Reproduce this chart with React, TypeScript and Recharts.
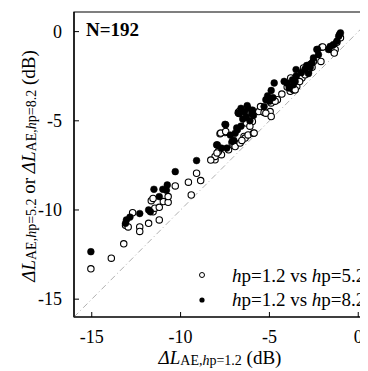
import React from "react";
import { ScatterChart, Scatter, XAxis, YAxis, ReferenceLine, ReferenceArea } from "recharts";

// hp=1.2 vs hp=5.2 (open circles): [x, y]
const openX = [-15.05,-13.9,-13.2,-12.3,-12.3,-11.8,-11.2,-12.7,-13.1,-12.95,-11.55,-11.45,-11.2,-11.65,-11.55,-10.97,-10.7,-10.7,-10.3,
  -9.4,-9.56,-8.87,-9.1,-8.06,-8.06,-7.7,-7.87,-7.3,-7.1,-7.78,-7.5,-7.74,-7.46,
  -6.93,-6.65,-6.43,-6.37,-6.2,-5.9,-5.86,-6.3,-5.96,-6.75,-6.7,
  -5.6,-5.3,-4.96,-5.2,-4.9,-4.9,-4.55,-4.68,
  -3.83,-3.65,-3.6,-3.46,-3.55,-3.8,-3.17,-2.99,-2.8,-3.08,-2.7,-2.52,-2.1,
  -2.05,-2.0,-1.58,-1.48,-1.3,-1.54,-1.35,-1.0,
  -6.1,-5.5,-4.3,-4.0,-3.3,-2.6,-1.2,-8.3,-7.95,-6.55];
const openY = [-13.3,-12.7,-11.9,-10.95,-11.2,-10.75,-10.56,-10.15,-10.85,-10.95,-10.1,-9.9,-9.85,-9.48,-9.35,-9.53,-9.57,-9.25,-8.65,
  -9.16,-8.44,-8.35,-7.94,-7.19,-7.0,-6.9,-6.72,-6.63,-6.25,-5.73,-5.66,-5.69,-5.6,
  -6.44,-6.25,-5.88,-5.97,-5.79,-5.7,-5.69,-5.13,-5.04,-4.53,-4.48,
  -4.48,-4.53,-4.48,-4.57,-4.76,-4.0,-3.82,-3.9,
  -3.35,-3.26,-3.26,-3.07,-3.26,-2.6,-2.6,-2.42,-2.23,-2.04,-1.85,-1.67,-1.67,
  -0.88,-0.86,-0.92,-1.0,-1.0,-1.0,-1.2,-0.35,
  -5.3,-4.2,-3.5,-3.1,-2.8,-2.0,-0.6,-7.2,-6.8,-6.1];

// hp=1.2 vs hp=8.2 (filled circles)
const filledX = [-15.05,-13.1,-13.05,-12.85,-12.3,-11.8,-11.7,-11.2,-11.5,-11.0,-10.75,-10.8,-10.3,
  -9.1,-7.97,-7.93,-7.7,-7.4,-7.1,-6.93,-6.84,-7.5,-7.46,-6.75,
  -6.6,-6.4,-6.2,-6.0,-6.3,-6.1,-5.9,-6.5,-6.7,-5.95,-6.25,
  -7.2,-7.0,-6.8,-6.6,
  -5.3,-5.2,-5.0,-4.8,-5.1,-4.73,-4.9,
  -4.17,-3.89,-4.0,-3.7,-3.5,-3.55,-3.65,-3.5,
  -3.2,-3.0,-2.9,-2.7,-2.6,-2.8,-2.52,-2.24,-2.33,-2.29,
  -1.67,-1.58,-1.4,-1.2,-1.1,-1.0,-1.05];
const filledY = [-12.34,-10.75,-10.56,-10.4,-10.2,-10.0,-10.1,-9.25,-8.84,-8.84,-8.6,-8.9,-7.85,
  -7.23,-6.35,-6.35,-6.53,-6.53,-6.16,-5.7,-5.4,-5.2,-5.22,-4.57,
  -4.3,-4.5,-4.3,-4.6,-4.8,-5.0,-4.7,-4.9,-4.6,-4.4,-4.15,
  -5.8,-6.1,-5.5,-5.3,
  -4.2,-3.82,-3.9,-3.7,-3.6,-2.88,-3.3,
  -2.79,-3.16,-2.9,-2.7,-2.5,-2.8,-2.98,-2.13,
  -2.3,-2.1,-1.9,-2.0,-1.75,-2.35,-1.48,-1.29,-1.0,-1.0,
  -1.0,-0.83,-0.73,-0.54,-0.26,-0.07,-0.15];

const axisTicks = [-15, -10, -5, 0];

const openData = openX.map((x, i) => ({ x, y: openY[i] }));
const filledData = filledX.map((x, i) => ({ x, y: filledY[i] }));

const FONT = "'Liberation Serif', 'Times New Roman', serif";

const XTick = (props: any) => {
  const { x, y, payload } = props;
  return (
    <g>
      <line x1={x} y1={y} x2={x} y2={y - 5} stroke="#000" />
      <text x={x} y={y + 26} textAnchor="middle" fontFamily={FONT} fontSize={18} fill="#000">
        {payload.value}
      </text>
    </g>
  );
};

const YTick = (props: any) => {
  const { x, y, payload } = props;
  return (
    <g>
      <line x1={x} y1={y} x2={x + 5} y2={y} stroke="#000" />
      <text x={x - 12} y={y + 6} textAnchor="end" fontFamily={FONT} fontSize={18} fill="#000">
        {payload.value}
      </text>
    </g>
  );
};

const OpenDot = (props: any) => (
  <circle cx={props.cx} cy={props.cy} r={3.2} fill="#fff" stroke="#000" strokeWidth={1.1} />
);
const FilledDot = (props: any) => (
  <circle cx={props.cx} cy={props.cy} r={3.4} fill="#000" stroke="#000" strokeWidth={0.5} />
);

export default function App() {
  return (
    <div style={{ position: "relative", width: 360, height: 363, overflow: "hidden" }}>
      <ScatterChart width={380} height={363} margin={{ top: 4, right: 12, left: 0, bottom: 0 }}>
        <XAxis type="number" dataKey="x" domain={[-16, 1]} ticks={axisTicks} height={54}
          tick={<XTick />} tickLine={false} tickSize={0} tickMargin={0}
          axisLine={{ stroke: "#000", strokeWidth: 1.2 }} allowDataOverflow />
        <YAxis type="number" dataKey="y" domain={[-16, 1.1]} ticks={axisTicks} width={66}
          tick={<YTick />} tickLine={false} tickSize={0} tickMargin={0}
          axisLine={{ stroke: "#000", strokeWidth: 1.2 }} allowDataOverflow />
        <ReferenceArea x1={-16} x2={1} y1={-16} y2={1.1} fill="none" stroke="#000" strokeWidth={1.2} />
        <ReferenceLine segment={[{ x: -16, y: -16 }, { x: 1, y: 1 }]} stroke="#b0b0b0" strokeDasharray="6 3 1 3" />
        <Scatter data={openData} shape={<OpenDot />} isAnimationActive={false} />
        <Scatter data={filledData} shape={<FilledDot />} isAnimationActive={false} />
      </ScatterChart>
      <svg width={360} height={363} style={{ position: "absolute", left: 0, top: 0, pointerEvents: "none" }}
        fontFamily={FONT}>
        <text x={78} y={28} fontSize={19} fontWeight="bold">N=192</text>
        <text x={212} y={356} fontSize={19} textAnchor="middle">
          <tspan fontStyle="italic">ΔL</tspan>
          <tspan fontSize={14} dy={1}>AE,</tspan>
          <tspan fontSize={14} fontStyle="italic">h</tspan>
          <tspan fontSize={14}>p=1.2</tspan>
          <tspan dy={-1}> (dB)</tspan>
        </text>
        <text x={0} y={0} fontSize={19} textAnchor="middle" transform="translate(27,158) rotate(-90)">
          <tspan fontStyle="italic">ΔL</tspan>
          <tspan fontSize={14} dy={1}>AE,</tspan>
          <tspan fontSize={14} fontStyle="italic">h</tspan>
          <tspan fontSize={14}>p=5.2</tspan>
          <tspan dy={-1}> or </tspan>
          <tspan fontStyle="italic">ΔL</tspan>
          <tspan fontSize={14} dy={1}>AE,</tspan>
          <tspan fontSize={14} fontStyle="italic">h</tspan>
          <tspan fontSize={14}>p=8.2</tspan>
          <tspan dy={-1}> (dB)</tspan>
        </text>
        <circle cx={194} cy={267} r={2.5} fill="#fff" stroke="#000" strokeWidth={1} />
        <circle cx={194} cy={292} r={2.6} fill="#000" />
        <text x={224} y={274} fontSize={19}>
          <tspan fontStyle="italic">h</tspan>p=1.2 vs <tspan fontStyle="italic">h</tspan>p=5.2
        </text>
        <text x={224} y={298} fontSize={19}>
          <tspan fontStyle="italic">h</tspan>p=1.2 vs <tspan fontStyle="italic">h</tspan>p=8.2
        </text>
      </svg>
    </div>
  );
}
